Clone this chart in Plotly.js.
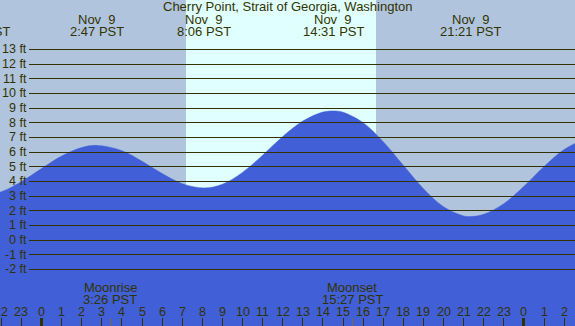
<!DOCTYPE html>
<html><head><meta charset="utf-8">
<script src="https://cdn.plot.ly/plotly-3.0.1.min.js"></script>
<style>html,body{margin:0;padding:0;background:#B0C4DE;}#chart{width:575px;height:326px;}
.shapelayer path{shape-rendering:crispEdges;}
.xtick, .xaxislayer-above path{shape-rendering:crispEdges;}</style>
</head><body><div id="chart"></div>
<script>
// ---- data (hours since midnight Nov 9, PST; heights in ft) ----
const chartTitle = 'Cherry Point, Strait of Georgia, Washington';
const hours   = [-3.1, -2, -1, 0, 1, 2, 2.78, 4, 5, 6, 7, 8.1, 9, 10, 11, 12, 13, 14, 14.52, 15, 16, 17, 18, 19, 20, 21, 21.35, 22, 23, 24, 25, 26, 27];
const heights = [3.0, 3.29, 3.98, 4.87, 5.72, 6.30, 6.45, 6.09, 5.37, 4.53, 3.84, 3.55, 3.80, 4.61, 5.78, 7.05, 8.11, 8.72, 8.8, 8.71, 8.00, 6.70, 5.09, 3.50, 2.27, 1.64, 1.6, 1.75, 2.48, 3.66, 5.01, 6.17, 6.88];
const eventHours = [-3.1, 2.78, 8.1, 14.52, 21.35];
const eventDates = ['Nov 8', 'Nov 9', 'Nov 9', 'Nov 9', 'Nov 9'];
const eventTimes = ['20:54 PST', '2:47 PST', '8:06 PST', '14:31 PST', '21:21 PST'];
const dayStart = [7.19];
const dayEnd   = [16.64];
const moonHours = [3.43, 15.45];
const moonNames = ['Moonrise', 'Moonset'];
const moonTimes = ['3:26 PST', '15:27 PST'];
const heightTicks = [-2, -1, 0, 1, 2, 3, 4, 5, 6, 7, 8, 9, 10, 11, 12, 13];
const hourTicks  = [-2, -1, 0, 1, 2, 3, 4, 5, 6, 7, 8, 9, 10, 11, 12, 13, 14, 15, 16, 17, 18, 19, 20, 21, 22, 23, 24, 25, 26];
const hourLabels = ['22','23','0','1','2','3','4','5','6','7','8','9','10','11','12','13','14','15','16','17','18','19','20','21','22','23','0','1','2'];
const midnights = [0, 24];

// ---- style ----
const W = 575, H = 326;
const NIGHT = '#B0C4DE', DAY = '#E0FFFF', WATER = '#415FD6', INK = '#333300';
const FONT = 'Liberation Sans, Arial, sans-serif';
const xRange = [-2.065, 26.54];
const yRange = [-5.864, 16.364];
const py = p => 1 - p / H;                                   // pixel row -> paper y
const px = h => (h - xRange[0]) / (xRange[1] - xRange[0]);   // hour -> paper x

const traces = [
  { x: [xRange[0] - 2, xRange[1] + 2], y: [yRange[0] - 1, yRange[0] - 1], mode: 'lines',
    line: { width: 0 }, hoverinfo: 'skip', showlegend: false },
  { x: hours, y: heights, mode: 'lines', line: { shape: 'spline', smoothing: 1, color: WATER, width: 0.5 },
    fill: 'tonexty', fillcolor: WATER, hoverinfo: 'skip', showlegend: false }
];

const shapes = [];
dayStart.forEach((s, i) => shapes.push({ type: 'rect', xref: 'x', yref: 'paper', x0: s, x1: dayEnd[i], y0: 0, y1: 1,
  fillcolor: DAY, line: { width: 0 }, layer: 'below' }));
heightTicks.forEach(v => shapes.push({ type: 'line', xref: 'paper', yref: 'y', x0: 29 / W, x1: 1, y0: v, y1: v,
  line: { color: INK, width: 1 }, layer: 'above' }));
midnights.forEach(h => shapes.push({ type: 'line', xref: 'x', yref: 'paper', x0: h, x1: h, y0: 0, y1: 8 / H,
  line: { color: INK, width: 3 }, layer: 'above' }));
moonHours.forEach(h => shapes.push({ type: 'line', xref: 'x', yref: 'paper', x0: h, x1: h, y0: 0, y1: 8 / H,
  line: { color: '#7a6a40', width: 1 }, layer: 'above' }));

const ann = [];
const txt = (x, y, yref, text, size, xanchor, h) => ann.push({ x, xref: 'paper', y, yref, text, showarrow: false,
  xanchor: xanchor || 'center', yanchor: 'middle', height: h, borderpad: 0, borderwidth: 0,
  font: { family: FONT, size, color: INK } });
txt(0.5, py(7), 'paper', chartTitle, 13, 'center');
eventHours.forEach((h, i) => { txt(px(h), py(19), 'paper', eventDates[i].replace(/ /g, '\u00a0\u00a0'), 13, 'center', 13);
  txt(px(h), py(32), 'paper', eventTimes[i], 13, 'center', 13); });
moonHours.forEach((h, i) => { txt(px(h), py(287), 'paper', moonNames[i], 13, 'center', 12);
  txt(px(h), py(299), 'paper', moonTimes[i], 13, 'center', 12); });
heightTicks.forEach(v => txt(26.5 / W, v, 'y', v + ' ft', 12.5, 'right', 14));
hourTicks.forEach((h, i) => txt(px(h), py(311.5), 'paper', hourLabels[i], 12.5, 'center', 14));

const layout = {
  width: W, height: H, margin: { l: 0, r: 0, t: 0, b: 0, pad: 0 },
  paper_bgcolor: NIGHT, plot_bgcolor: NIGHT, showlegend: false,
  xaxis: { range: xRange, showgrid: false, zeroline: false, showline: false, showticklabels: false,
    tickmode: 'array', tickvals: hourTicks, ticks: 'inside', ticklen: 8, tickwidth: 1, tickcolor: INK, fixedrange: true },
  yaxis: { range: yRange, showgrid: false, zeroline: false, showline: false, showticklabels: false, ticks: '', fixedrange: true },
  shapes, annotations: ann
};
Plotly.newPlot('chart', traces, layout, { displayModeBar: false, staticPlot: true });
</script></body></html>
